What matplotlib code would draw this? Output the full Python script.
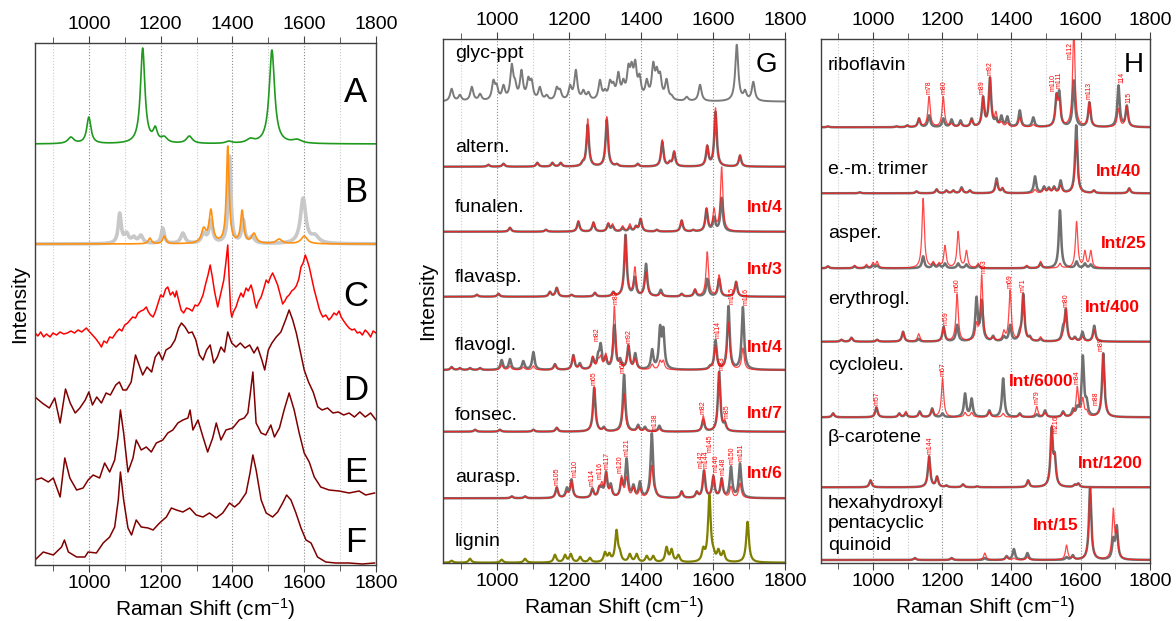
import numpy as np
import matplotlib
matplotlib.use('Agg')
import matplotlib.pyplot as plt
from matplotlib.ticker import MultipleLocator

plt.rcParams['font.family'] = ['Liberation Sans', 'DejaVu Sans']
plt.rcParams['mathtext.default'] = 'regular'

# ---------------- left panel (A-F), heights in a.u. ----------------
A_pos = [950, 1000, 1150, 1185, 1210, 1280, 1390, 1450, 1510, 1580]
A_h = [7, 27, 96, 18, 8, 8, 3, 6, 94, 5]
A_w = [20, 14, 15, 14, 20, 20, 20, 25, 18, 30]

Bg_pos = [1086, 1105, 1125, 1145, 1206, 1262, 1320, 1340, 1392, 1430, 1455, 1597, 1630]
Bg_h = [31, 12, 8, 9, 16, 11, 12, 24, 88, 25, 8, 46, 10]
Bg_w = [10, 14, 14, 14, 10, 14, 14, 12, 9, 10, 15, 18, 25]
Bo_pos = [1170, 1210, 1320, 1340, 1387, 1427, 1460, 1530, 1600]
Bo_h = [6, 8, 17, 35, 98, 34, 11, 5, 8]
Bo_w = [10, 10, 15, 12, 9, 10, 15, 20, 20]

C_x = [850, 858, 866, 874, 882, 892, 900, 910, 920, 930, 940, 950, 960, 970, 980, 993, 1000, 1010,
       1020, 1030, 1035, 1042, 1050, 1058, 1066, 1077, 1085, 1092, 1100, 1108, 1115, 1122, 1130,
       1137, 1145, 1152, 1160, 1166, 1172, 1179, 1186, 1193, 1200, 1207, 1214, 1220, 1227, 1234,
       1240, 1244, 1250, 1257, 1264, 1272, 1280, 1288, 1296, 1303, 1310, 1318, 1326, 1332, 1338,
       1344, 1350, 1355, 1359, 1364, 1370, 1376, 1381, 1387, 1391, 1395, 1398, 1404, 1410, 1417,
       1424, 1430, 1438, 1444, 1452, 1458, 1463, 1467, 1472, 1480, 1487, 1494, 1500, 1506, 1512,
       1518, 1526, 1532, 1540, 1546, 1552, 1558, 1565, 1572, 1578, 1585, 1591, 1597, 1603, 1609,
       1614, 1620, 1628, 1636, 1642, 1646, 1652, 1660, 1669, 1676, 1683, 1690, 1697, 1703, 1710,
       1718, 1725, 1733, 1740, 1748, 1755, 1762, 1770, 1778, 1785, 1792, 1800]
C_h = [2, -1, 3, -2, 1, -2, 2, 0, 3, 1, 2, 4, 2, 5, 3, 7, 4, 0,
       -4, -9, -12, -6, -8, -2, -3, 3, 6, 4, 10, 12, 15, 18, 17,
       22, 24, 25, 28, 23, 20, 18, 24, 32, 40, 38, 46, 48, 40, 43,
       38, 44, 35, 25, 22, 27, 26, 24, 30, 29, 33, 40, 52, 60, 70,
       58, 44, 35, 28, 36, 46, 55, 70, 90, 55, 25, 18, 24, 28, 36,
       42, 38, 47, 44, 50, 42, 32, 27, 33, 38, 46, 55, 52, 58, 62,
       57, 50, 42, 31, 34, 38, 40, 44, 46, 49, 56, 68, 72, 80, 74,
       68, 58, 45, 34, 26, 22, 18, 20, 15, 18, 22, 20, 24, 18, 14,
       10, 7, 5, 6, 2, 3, 0, 5, 2, -2, 4, 2]

D_x = [850, 870, 890, 905, 920, 935, 948, 962, 975, 990, 1000, 1010, 1022, 1035, 1048, 1060,
       1075, 1085, 1095, 1105, 1118, 1130, 1140, 1150, 1162, 1175, 1185, 1195, 1205, 1215, 1228,
       1240, 1250, 1258, 1268, 1278, 1288, 1298, 1308, 1318, 1328, 1338, 1348, 1358, 1368, 1378,
       1387, 1398, 1410, 1422, 1435, 1448, 1460, 1470, 1482, 1490, 1500, 1510, 1522, 1535, 1548,
       1558, 1568, 1578, 1590, 1600, 1612, 1625, 1638, 1650, 1665, 1680, 1695, 1710, 1725, 1740,
       1755, 1770, 1785, 1800]
D_h = [18, 12, 7, 17, -8, 26, 12, 2, 7, 15, 23, 10, 18, 12, 22, 20,
       30, 33, 25, 25, 33, 60, 50, 40, 48, 43, 58, 63, 55, 65, 68,
       75, 87, 92, 88, 82, 83, 75, 60, 55, 65, 70, 52, 58, 68, 63,
       83, 72, 68, 72, 67, 70, 62, 68, 55, 45, 65, 72, 78, 83, 95,
       105, 95, 82, 62, 45, 33, 23, 8, 5, 7, 2, 3, 0, 2, -2,
       3, -2, 2, -5]

E_x = [850, 868, 887, 901, 920, 933, 947, 966, 984, 998, 1012, 1030, 1044, 1058, 1072, 1081,
       1088, 1097, 1109, 1123, 1132, 1146, 1160, 1174, 1188, 1206, 1220, 1234, 1248, 1262, 1276,
       1282, 1290, 1304, 1318, 1331, 1345, 1355, 1368, 1382, 1401, 1419, 1433, 1443, 1450, 1457,
       1466, 1480, 1493, 1507, 1517, 1531, 1544, 1558, 1572, 1586, 1600, 1614, 1628, 1646, 1669,
       1697, 1725, 1753, 1771, 1796]
E_h = [13, 15, 11, 15, -4, 35, 15, 3, 5, 13, 18, 15, 30, 21, 33, 56,
       83, 60, 21, 35, 53, 43, 46, 41, 50, 53, 60, 63, 70, 73, 75,
       83, 63, 73, 56, 41, 55, 70, 53, 63, 65, 73, 75, 80, 100, 121,
       70, 60, 58, 68, 56, 65, 83, 100, 83, 60, 40, 31, 16, 6, 3,
       2, 0, 2, -2, 0]

F_x = [850, 873, 901, 924, 932, 943, 966, 989, 998, 1021, 1040, 1058, 1072, 1082, 1088, 1097,
       1109, 1119, 1132, 1146, 1165, 1179, 1197, 1216, 1230, 1244, 1262, 1281, 1299, 1318, 1336,
       1355, 1373, 1392, 1406, 1419, 1438, 1449, 1457, 1466, 1480, 1494, 1512, 1526, 1540, 1551,
       1563, 1577, 1591, 1605, 1619, 1637, 1660, 1688, 1725, 1762, 1796]
F_h = [4, 12, 9, 17, 24, 12, 7, 7, 12, 11, 21, 27, 37, 64, 92, 64,
       36, 29, 44, 37, 36, 34, 41, 47, 56, 54, 52, 56, 49, 47, 51,
       46, 51, 61, 57, 61, 71, 91, 109, 94, 64, 51, 47, 52, 61, 69,
       64, 51, 36, 24, 21, 7, 2, 1, 1, 0, 1]

# ---------------- panel G ----------------
glyc_pos = [874, 897, 930, 953, 990, 999, 1018, 1041, 1050, 1068, 1087, 1096, 1119, 1138, 1166, 1175,
            1203, 1219, 1240, 1254, 1286, 1300, 1314, 1323, 1337, 1351, 1365, 1374, 1384, 1396, 1416,
            1434, 1444, 1453, 1471, 1485, 1527, 1564, 1666, 1675, 1689, 1712]
glyc_h = [13, 7, 15, 8, 22, 18, 17, 38, 23, 32, 25, 23, 15, 7, 15, 13,
          17, 32, 12, 10, 22, 13, 22, 20, 30, 23, 38, 40, 42, 28, 23,
          40, 35, 30, 23, 7, 5, 17, 57, 13, 12, 20]

alt_pos = [976, 1018, 1112, 1154, 1177, 1238, 1252, 1305, 1333, 1391, 1459, 1480, 1492, 1584, 1607, 1675]
alt_g = [2, 3, 4, 4, 4, 6, 42, 47, 3, 3, 25, 6, 15, 21, 55, 11]
alt_r = [2, 3, 4, 4, 4, 7, 48, 50, 3, 3, 27, 6, 16, 22, 59, 12]

fun_pos = [1036, 1136, 1226, 1268, 1309, 1321, 1349, 1369, 1386, 1399, 1444, 1513, 1545, 1582, 1603, 1624]
fun_g = [4, 2, 10, 9, 8, 6, 4, 5, 6, 13, 2, 11, 2, 23, 15, 34]
fun_r = [4, 2, 11, 10, 9, 8, 6, 8, 6, 13, 2, 12, 2, 24, 24, 65]

fasp_pos = [944, 1004, 1147, 1166, 1207, 1272, 1323, 1357, 1383, 1414, 1455, 1513, 1550, 1584, 1617, 1664]
fasp_g = [2, 3, 5, 9, 2, 4, 5, 62, 20, 33, 7, 3, 7, 18, 18, 15]
fasp_r = [2, 3, 5, 9, 2, 4, 5, 62, 30, 25, 4, 3, 8, 45, 22, 15]

fgl_pos = [874, 897, 925, 953, 1013, 1036, 1073, 1101, 1161, 1212, 1230, 1266, 1281, 1288, 1302, 1326,
           1342, 1365, 1384, 1431, 1453, 1462, 1592, 1607, 1643, 1683]
fgl_g = [3, 2, 2, 2, 10, 11, 9, 18, 6, 15, 7, 13, 18, 27, 14, 45,
         12, 25, 17, 21, 45, 43, 5, 30, 64, 63]
fgl_r = [3, 2, 2, 2, 5, 4, 3, 4, 5, 15, 5, 14, 12, 15, 17, 64,
         8, 25, 12, 6, 10, 10, 4, 25, 48, 22]
fgl_lab = ['m82', 'm88', 'm92', 'm114', 'm115', 'm116']
fgl_lx = [1277, 1330, 1367, 1613, 1652, 1692]

fon_pos = [939, 1008, 1101, 1166, 1270, 1297, 1353, 1392, 1411, 1451, 1573, 1617, 1633]
fon_g = [2, 2, 2, 4, 44, 5, 57, 7, 5, 6, 12, 60, 10]
fon_r = [2, 2, 2, 4, 45, 4, 38, 5, 3, 3, 16, 60, 12]
fon_lab = ['m65', 'm68', 'm82', 'm83', 'm85']
fon_lx = [1270, 1351, 1573, 1624, 1638]

aur_pos = [1041, 1078, 1166, 1194, 1207, 1265, 1284, 1291, 1303, 1316, 1346, 1360, 1379, 1397, 1420,
           1430, 1440, 1513, 1555, 1575, 1601, 1624, 1650, 1675]
aur_g = [2, 2, 11, 11, 19, 10, 12, 13, 27, 15, 20, 40, 14, 17, 10, 65, 8, 7, 7, 28, 22, 20, 32, 35]
aur_r = [2, 2, 11, 7, 18, 9, 13, 17, 26, 12, 23, 22, 12, 10, 8, 33, 10, 7, 7, 28, 24, 21, 12, 15]
aur_lab = ['m105', 'm110', 'm114', 'm116', 'm117', 'm120', 'm121', 'm138', 'm142', 'm144',
           'm145', 'm146', 'm148', 'm150', 'm151']
aur_lx = [1167, 1216, 1263, 1286, 1305, 1342, 1362, 1438, 1566, 1580, 1593, 1607, 1627, 1652, 1677]

lig_pos = [874, 925, 1013, 1078, 1161, 1189, 1205, 1231, 1258, 1300, 1312, 1332, 1341, 1369, 1388,
           1416, 1434, 1471, 1485, 1504, 1573, 1590, 1601, 1615, 1629, 1696]
lig_h = [2, 4, 3, 4, 8, 8, 9, 6, 5, 11, 10, 33, 14, 9, 9, 7, 7, 16, 14, 8, 16, 68, 16, 14, 12, 41]

# ---------------- panel H ----------------
rib_pos = [870, 1068, 1099, 1133, 1162, 1203, 1227, 1253, 1285, 1318, 1338, 1355, 1371, 1388, 1424,
           1463, 1530, 1538, 1580, 1625, 1709, 1733]
rib_g = [1, 1, 2, 9, 12, 9, 8, 7, 9, 31, 50, 10, 12, 11, 17, 10, 34, 37, 47, 25, 42, 22]
rib_r = [1, 1, 2, 9, 31, 31, 4, 4, 8, 31, 50, 16, 6, 5, 10, 3, 34, 30, 100, 26, 19, 21]
rib_lab = ['m78', 'm80', 'm89', 'm92', 'm110', 'm111', 'm112', 'm113', '114', '115']
rib_lx = [1162, 1205, 1316, 1339, 1521, 1538, 1569, 1625, 1718, 1740]

tri_pos = [962, 1126, 1184, 1212, 1232, 1256, 1280, 1357, 1374, 1468, 1494, 1508, 1523, 1542, 1587, 1638, 1740]
tri_g = [1, 2, 4, 3, 3, 6, 3, 15, 5, 17, 7, 6, 7, 13, 68, 3, 5]
tri_r = [1, 2, 4, 3, 3, 5, 3, 12, 6, 4, 5, 5, 6, 8, 53, 3, 5]

asp_pos = [870, 947, 981, 1000, 1012, 1145, 1174, 1191, 1208, 1246, 1270, 1304, 1444, 1484, 1540, 1588, 1612, 1629]
asp_g = [2, 2, 2, 3, 3, 12, 5, 4, 5, 5, 4, 3, 2, 5, 58, 7, 5, 4]
asp_r = [2, 3, 4, 6, 7, 70, 7, 6, 23, 37, 18, 5, 3, 7, 5, 47, 18, 18]

ery_pos = [909, 938, 1012, 1087, 1132, 1204, 1243, 1299, 1314, 1347, 1378, 1396, 1424, 1434, 1453,
           1484, 1549, 1557, 1583, 1605, 1639]
ery_g = [2, 4, 2, 10, 3, 15, 17, 45, 42, 6, 6, 17, 13, 48, 6, 3, 17, 33, 5, 10, 16]
ery_r = [2, 4, 2, 10, 8, 15, 48, 20, 67, 5, 12, 52, 8, 48, 5, 5, 10, 33, 4, 5, 12]
ery_lab = ['m59', 'm60', 'm63', 'm69', 'm71', 'm80']
ery_lx = [1210, 1243, 1322, 1396, 1434, 1557]

cyc_pos = [885, 1010, 1076, 1095, 1135, 1171, 1201, 1266, 1285, 1336, 1376, 1424, 1473, 1497, 1549,
           1578, 1590, 1606, 1617, 1665]
cyc_g = [4, 10, 4, 4, 6, 9, 4, 24, 19, 7, 39, 4, 3, 7, 6, 9, 12, 62, 20, 64]
cyc_r = [4, 10, 4, 6, 5, 8, 39, 5, 5, 6, 4, 3, 11, 5, 5, 5, 31, 20, 8, 64]
cyc_lab = ['m57', 'm67', 'm79', 'm84', 'm88', 'm89']
cyc_lx = [1012, 1203, 1473, 1590, 1644, 1658]

car_pos = [993, 1162, 1185, 1212, 1260, 1301, 1448, 1516, 1525, 1583, 1593]
car_g = [7, 31, 11, 2, 3, 1, 7, 60, 35, 3, 4]
car_r = [7, 31, 11, 2, 3, 1, 7, 62, 33, 3, 4]
car_lab = ['m144', 'm216']
car_lx = [1164, 1530]

hex_pos = [1121, 1227, 1323, 1386, 1407, 1446, 1559, 1577, 1627, 1694, 1704]
hex_g = [2, 2, 2, 4, 11, 7, 3, 5, 73, 23, 35]
hex_r = [2, 2, 7, 3, 2, 3, 15, 3, 73, 52, 30]

x = np.linspace(850, 1800, 2400)


def lor(pos, hts, w=8.0):
    # sum of lorentzian bands; amplitudes tuned so that the summed curve
    # reaches the read peak heights
    pos = np.asarray(pos, float)
    hts = np.asarray(hts, float)
    g = np.broadcast_to(np.asarray(w, float) / 2.0, pos.shape)
    M = 1.0 / (1.0 + ((pos[:, None] - pos[None, :]) / g[None, :]) ** 2)
    a = hts.copy()
    for _ in range(40):
        a = np.clip(a * hts / np.maximum(M @ a, 1e-9), 0, None)
    L = 1.0 / (1.0 + ((x[:, None] - pos[None, :]) / g[None, :]) ** 2)
    return L @ a


def setup(ax, top):
    ax.set_xlim(850, 1800)
    ax.set_ylim(0, top)
    ax.xaxis.set_major_locator(MultipleLocator(200))
    ax.xaxis.set_minor_locator(MultipleLocator(100))
    ax.tick_params(axis='x', which='both', top=True, labeltop=True, direction='out',
                   labelsize=14, color='#404040', pad=2)
    ax.tick_params(axis='x', which='major', length=5)
    ax.tick_params(axis='x', which='minor', length=4)
    ax.set_yticks([])
    ax.grid(True, axis='x', which='major', color='#8a8a8a', ls=':', lw=0.8)
    ax.grid(True, axis='x', which='minor', color='#cccccc', ls=':', lw=0.8)
    ax.set_axisbelow(True)
    for s in ax.spines.values():
        s.set_color('#404040')
        s.set_linewidth(1.0)
    ax.set_xlabel('Raman Shift (cm$^{-1}$)', fontsize=15, labelpad=3)


GRAY = '#707070'
RED = '#ff1a1a'


def pair(ax, off, pos, hg, hr, labs=None, lx=None, w=8.0):
    yg = lor(pos, hg, w)
    yr = lor(pos, hr, w)
    ax.plot(x, off + yg, color=GRAY, lw=1.8, solid_joinstyle='round')
    ax.plot(x, off + yr, color=RED, lw=0.9, alpha=0.8)
    if labs:
        top = ax.get_ylim()[1]
        placed = []
        for t, xl in zip(labs, lx):
            m = (x > xl - 12) & (x < xl + 12)
            yl = off + max(yg[m].max(), yr[m].max()) + 2
            yl = min(yl, top - 20)
            ln = 3.6 * len(t) + 1
            for xp, y0, y1 in placed:
                if abs(xl - xp) < 14 and yl < y1 and yl + ln > y0:
                    yl = y1 + 1
            placed.append((xl, yl, yl + ln))
            ax.text(xl, yl, t, rotation=90, fontsize=5, color='red',
                    ha='center', va='bottom')


fig = plt.figure(figsize=(11.76, 6.21), dpi=100)
ax1 = fig.add_axes([35 / 1176, 1 - 565 / 621, 341 / 1176, 522 / 621])
ax2 = fig.add_axes([443 / 1176, 1 - 563 / 621, 342 / 1176, 524 / 621])
ax3 = fig.add_axes([821 / 1176, 1 - 563 / 621, 329 / 1176, 524 / 621])

# ---- left panel ----
setup(ax1, 522)
ax1.set_ylabel('Intensity', fontsize=15, labelpad=4)
ax1.plot(x, 421 + lor(A_pos, A_h, A_w), color='#1f9a1f', lw=1.2)
ax1.plot(x, 321 + lor(Bg_pos, Bg_h, Bg_w), color='#c8c8c8', lw=2.6)
ax1.plot(x, 321 + lor(Bo_pos, Bo_h, Bo_w), color='#ff9010', lw=1.2)
ax1.plot(C_x, 230 + np.array(C_h), color='#ff0000', lw=1.1)
ax1.plot(D_x, 150 + np.array(D_h), color='#800000', lw=1.1)
ax1.plot(E_x, 72 + np.array(E_h), color='#800000', lw=1.1)
ax1.plot(F_x, 1 + np.array(F_h), color='#800000', lw=1.1)
for lab, yy in zip('ABCDEF', [472, 372, 268, 175, 93, 22]):
    ax1.text(1744, yy, lab, fontsize=25, ha='center', va='center')

# ---- panel G ----
setup(ax2, 524)
ax2.set_ylabel('Intensity', fontsize=15, labelpad=4)
ax2.plot(x, 461.3 + lor(glyc_pos, glyc_h, 10), color='#7a7a7a', lw=1.4)
pair(ax2, 396.3, alt_pos, alt_g, alt_r)
pair(ax2, 331.3, fun_pos, fun_g, fun_r)
pair(ax2, 266.3, fasp_pos, fasp_g, fasp_r)
pair(ax2, 193.0, fgl_pos, fgl_g, fgl_r, fgl_lab, fgl_lx)
pair(ax2, 131.3, fon_pos, fon_g, fon_r, fon_lab, fon_lx)
pair(ax2, 64.7, aur_pos, aur_g, aur_r, aur_lab, aur_lx)
ax2.plot(x, 0.3 + lor(lig_pos, lig_h, 9), color='#808000', lw=1.6)

g_names = ['glyc-ppt', 'altern.', 'funalen.', 'flavasp.', 'flavogl.', 'fonsec.', 'aurasp.', 'lignin']
g_name_y = [510, 416, 356, 285, 218, 148, 85, 21]
for t, yy in zip(g_names, g_name_y):
    ax2.text(883, yy, t, fontsize=14, ha='left', va='center')
for t, yy in zip(['Int/4', 'Int/3', 'Int/4', 'Int/7', 'Int/6'], [355, 293, 215, 150, 90]):
    ax2.text(1794, yy, t, fontsize=12.5, color='red', fontweight='bold', ha='right', va='center')
ax2.text(1749, 498, 'G', fontsize=20, ha='center', va='center')

# ---- panel H ----
setup(ax3, 524)
pair(ax3, 435.7, rib_pos, rib_g, rib_r, rib_lab, rib_lx)
pair(ax3, 369.7, tri_pos, tri_g, tri_r)
pair(ax3, 294.7, asp_pos, asp_g, asp_r)
pair(ax3, 221.3, ery_pos, ery_g, ery_r, ery_lab, ery_lx)
pair(ax3, 145.7, cyc_pos, cyc_g, cyc_r, cyc_lab, cyc_lx)
pair(ax3, 75.7, car_pos, car_g, car_r, car_lab, car_lx)
pair(ax3, 3.0, hex_pos, hex_g, hex_r)

h_names = ['riboflavin', 'e.-m. trimer', 'asper.', 'erythrogl.', 'cycloleu.', '\u03b2-carotene',
           'hexahydroxyl', 'pentacyclic', 'quinoid']
h_name_y = [498, 393, 330, 263, 198, 126, 60, 39, 18]
for t, yy in zip(h_names, h_name_y):
    ax3.text(870, yy, t, fontsize=14, ha='left', va='center')
h_int = ['Int/40', 'Int/25', 'Int/400', 'Int/6000', 'Int/1200', 'Int/15']
h_int_x = [1709, 1723, 1690, 1487, 1685, 1528]
h_int_y = [391, 320, 255, 181, 100, 37]
for t, xx, yy in zip(h_int, h_int_x, h_int_y):
    ax3.text(xx, yy, t, fontsize=12.5, color='red', fontweight='bold', ha='center', va='center')
ax3.text(1752, 498, 'H', fontsize=20, ha='center', va='center')

fig.savefig('out.png', dpi=100)
